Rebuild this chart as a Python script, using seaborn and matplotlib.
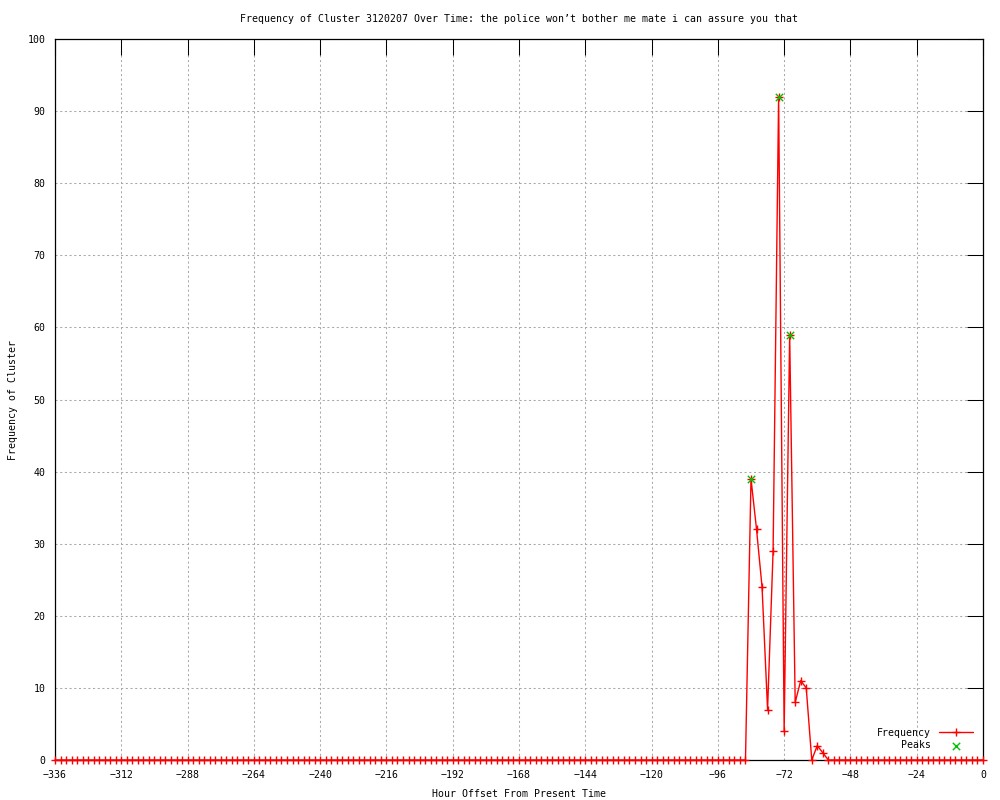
import numpy as np
import pandas as pd
import matplotlib
matplotlib.use("Agg")
import matplotlib.pyplot as plt
import seaborn as sns

# Horas (passo de 2 h) de -336 ate 0
horas = list(range(-336, 1, 2))

# Frequencia: tudo zero exceto a janela -86 .. -56
janela = [0, 39, 32, 24, 7, 29, 92, 4, 59, 8, 11, 10, 0, 2, 1, 0]
frequencia = [0] * 125 + janela + [0] * 28

# Picos
picos_x = [-84, -74, -70]
picos_y = [39, 92, 59]

df = pd.DataFrame({"hora": horas, "freq": frequencia})
df_picos = pd.DataFrame({"hora": picos_x, "freq": picos_y})

sns.set_theme(style="white")
plt.rcParams["font.family"] = ["DejaVu Sans Mono"]
plt.rcParams["font.size"] = 7.1
plt.rcParams["text.color"] = "black"
plt.rcParams["axes.labelcolor"] = "black"

fig = plt.figure(figsize=(10, 8), dpi=100)
ax = fig.add_axes([0.055, 0.05, 0.928, 0.90125])

sns.lineplot(data=df, x="hora", y="freq", color="red", linewidth=1,
             marker="+", markersize=5.5, markeredgewidth=1, markeredgecolor="red",
             label="Frequency", ax=ax, zorder=3, clip_on=False)
sns.scatterplot(data=df_picos, x="hora", y="freq", color="#00c000", marker="x",
                s=28, linewidth=1, label="Peaks", ax=ax, zorder=4)

ax.set_xlim(-336, 0)
ax.set_ylim(0, 100)
ax.set_xticks(range(-336, 1, 24))
ax.set_yticks(range(0, 101, 10))
ax.grid(True, color="#a8a8a8", linestyle=(0, (2, 2.5)), linewidth=0.75)
ax.tick_params(direction="in", length=11.5, width=0.75, top=True, right=True,
               labelsize=7.1, colors="black", pad=7)
for s in ax.spines.values():
    s.set_visible(True)
    s.set_color("black")
    s.set_linewidth(0.9)

ax.set_title("Frequency of Cluster 3120207 Over Time: the police won\u2019t bother me mate i can assure you that",
             fontsize=7.1, pad=12, color="black")
ax.set_xlabel("Hour Offset From Present Time", fontsize=7.1, labelpad=7)
ax.set_ylabel("Frequency of Cluster", fontsize=7.1, labelpad=7)

leg = ax.legend(loc="lower right", frameon=False, markerfirst=False, fontsize=7.1,
                handlelength=3.5, borderaxespad=0.6, labelspacing=0.25)

fig.savefig("out.png", dpi=100)
